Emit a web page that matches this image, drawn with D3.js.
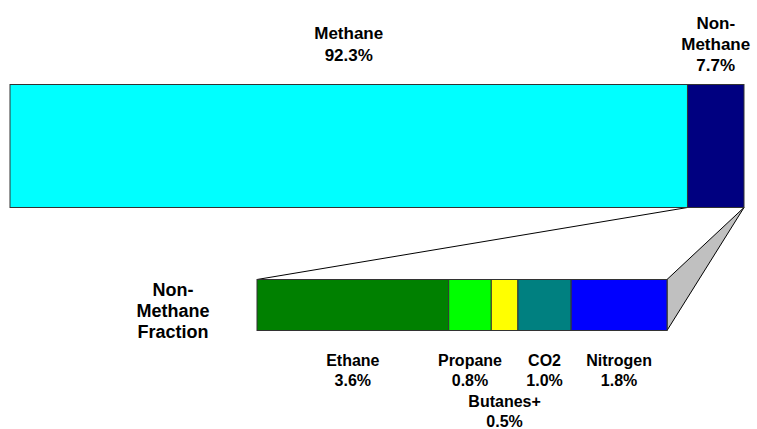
<!DOCTYPE html>
<html>
<head>
<meta charset="utf-8">
<script src="https://cdn.jsdelivr.net/npm/d3@7"></script>
<style>
  html, body { margin: 0; padding: 0; background: #fff; }
  svg text { font-family: "Liberation Sans", Arial, sans-serif; font-weight: bold; fill: #000; }
</style>
</head>
<body>
<svg id="chart" width="757" height="429"></svg>
<script>
// Natural gas composition (mole %)
const mainNames  = ["Methane", "Non-\nMethane"];
const mainValues = [92.3, 7.7];
const mainColors = ["#00ffff", "#000080"];

const subNames  = ["Ethane", "Propane", "Butanes+", "CO2", "Nitrogen"];
const subValues = [3.6, 0.8, 0.5, 1.0, 1.8];
const subColors = ["#008000", "#00ff00", "#ffff00", "#008080", "#0000ff"];
// label row offset for each component (Butanes+ sits on a lower row)
const subRows   = [0, 0, 2, 0, 0];

const svg = d3.select("#chart");
const edge = "#333";

function stack(vals) {
  let acc = 0;
  return vals.map(v => { const s = acc; acc += v; return [s, acc]; });
}

// Top bar: full composition
const xTop = d3.scaleLinear().domain([0, d3.sum(mainValues)]).range([10, 744]);
const topY0 = 84.5, topY1 = 207.5;
const mainStack = stack(mainValues);

// Bottom bar: non-methane fraction
const xSub = d3.scaleLinear().domain([0, d3.sum(subValues)]).range([257, 667]);
const subY0 = 279.5, subY1 = 330.5;
const subStack = stack(subValues);

// Connector: grey side face and left guide line
const nmStart = xTop(mainStack[1][0]), nmEnd = xTop(mainStack[1][1]);
svg.append("path")
  .attr("d", d3.line()([[nmEnd, topY1], [xSub.range()[1], subY0], [xSub.range()[1], subY1], [nmEnd, topY1]]))
  .attr("fill", "#c0c0c0").attr("stroke", "#000").attr("stroke-width", 1);
svg.append("line")
  .attr("x1", nmStart).attr("y1", topY1).attr("x2", xSub.range()[0]).attr("y2", subY0)
  .attr("stroke", "#000").attr("stroke-width", 1);

svg.selectAll("rect.main").data(mainValues).join("rect")
  .attr("class", "main")
  .attr("x", (d, i) => xTop(mainStack[i][0]))
  .attr("width", (d, i) => xTop(mainStack[i][1]) - xTop(mainStack[i][0]))
  .attr("y", topY0).attr("height", topY1 - topY0)
  .attr("fill", (d, i) => mainColors[i])
  .attr("stroke", edge).attr("stroke-width", 1);

svg.selectAll("rect.sub").data(subValues).join("rect")
  .attr("class", "sub")
  .attr("x", (d, i) => xSub(subStack[i][0]))
  .attr("width", (d, i) => xSub(subStack[i][1]) - xSub(subStack[i][0]))
  .attr("y", subY0).attr("height", subY1 - subY0)
  .attr("fill", (d, i) => subColors[i])
  .attr("stroke", edge).attr("stroke-width", 1);

function multiline(x, yBase, lines, lh, size) {
  const t = svg.append("text").attr("x", x).attr("y", yBase)
    .attr("text-anchor", "middle").style("font-size", size + "px");
  lines.forEach((s, k) => t.append("tspan").attr("x", x).attr("dy", k ? lh : 0).text(s));
}

// Top labels, block centred vertically above the bar
mainValues.forEach((v, i) => {
  const lines = mainNames[i].split("\n").concat([v.toFixed(1) + "%"]);
  const cx = (xTop(mainStack[i][0]) + xTop(mainStack[i][1])) / 2;
  const lh = 21.3;
  multiline(cx, 50 - (lines.length - 1) * lh / 2, lines, lh, 17);
});

// Component labels beneath the lower bar
subValues.forEach((v, i) => {
  const cx = (xSub(subStack[i][0]) + xSub(subStack[i][1])) / 2;
  multiline(cx, 366 + subRows[i] * 20.3, [subNames[i], v.toFixed(1) + "%"], 20.3, 16);
});

multiline(173, 295.5, ["Non-", "Methane", "Fraction"], 21.3, 18);
</script>
</body>
</html>
